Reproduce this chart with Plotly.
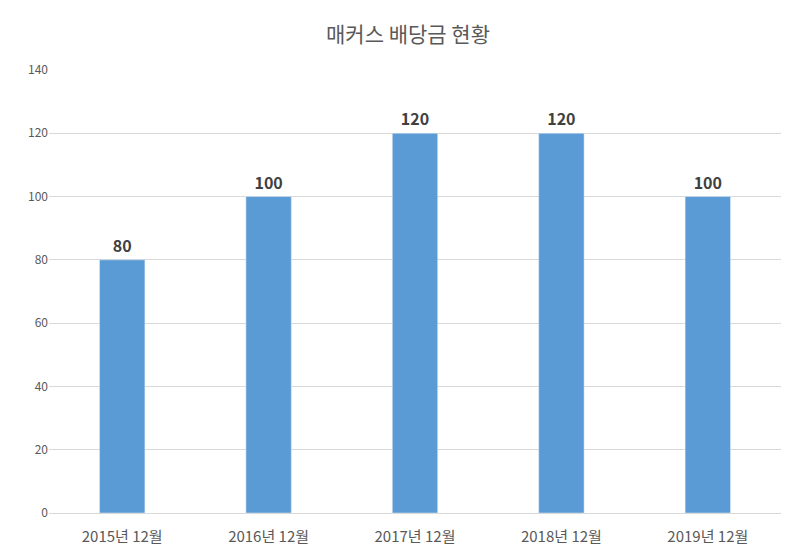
import plotly.graph_objects as go

years = ["2015년 12월", "2016년 12월", "2017년 12월", "2018년 12월", "2019년 12월"]
dividends = [80, 100, 120, 120, 100]

fig = go.Figure(go.Bar(
    x=years, y=dividends,
    marker_color="#5B9BD5",
    text=dividends, textposition="outside",
    textfont=dict(size=16, color="#404040", family="Noto Sans CJK KR"),
    texttemplate="<b>%{text}</b>",
    cliponaxis=False,
))
fig.update_layout(
    width=800, height=557,
    title=dict(text="매커스 배당금 현황", x=0.5, y=0.965, xanchor="center",
               font=dict(size=21, color="#595959", family="Noto Sans CJK KR")),
    font=dict(family="Noto Sans CJK KR", color="#595959", size=14),
    plot_bgcolor="white", paper_bgcolor="white",
    margin=dict(l=41, r=27, t=62, b=52, autoexpand=False),
    bargap=0.69, showlegend=False,
)
fig.update_yaxes(range=[0, 140], dtick=20, gridcolor="#D9D9D9", zeroline=False,
                 tickfont=dict(size=12), ticks="", fixedrange=True)
fig.update_xaxes(showline=True, linecolor="#D9D9D9", tickfont=dict(size=15),
                 ticklabelstandoff=10)
fig.write_html("out.html")
